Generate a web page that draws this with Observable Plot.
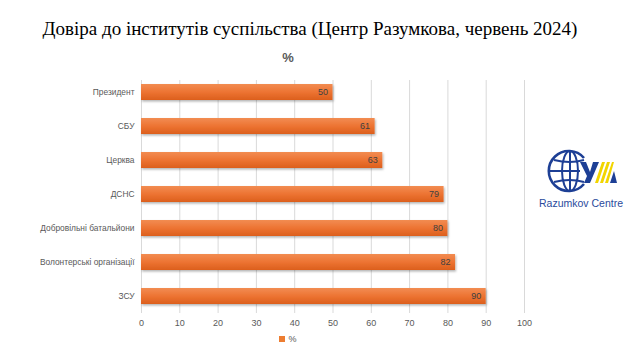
<!DOCTYPE html>
<html>
<head>
<meta charset="utf-8">
<script src="https://cdn.jsdelivr.net/npm/d3@7"></script>
<script src="https://cdn.jsdelivr.net/npm/@observablehq/plot@0.6"></script>
<style>
  body { margin: 0; background: #fff; }
  #wrap { position: relative; width: 640px; height: 360px; overflow: hidden; background: #fff; }
  #title { position: absolute; left: 0; width: 620px; top: 18px; text-align: center;
    font-family: "Liberation Serif", "Times New Roman", serif; font-size: 19px; color: #000; }
  #sub { position: absolute; left: 0; width: 576px; top: 50px; text-align: center;
    font-family: "Liberation Sans", Arial, sans-serif; font-size: 13px; font-weight: bold; color: #595959; }
  #legend { position: absolute; left: 0; width: 576px; top: 334px; text-align: center;
    font-family: "Liberation Sans", Arial, sans-serif; font-size: 9px; color: #595959; }
  #legend span.sw { display: inline-block; width: 6px; height: 6px; background: #ED7D31; margin-right: 3px; vertical-align: 0px; }
  #plot { position: absolute; left: 0; top: 0; }
  #logo { position: absolute; left: 536px; top: 145px; }
</style>
</head>
<body>
<div id="wrap">
  <div id="plot"></div>
  <div id="title">Довіра до інститутів суспільства (Центр Разумкова, червень 2024)</div>
  <div id="sub">%</div>
  <div id="legend"><span class="sw"></span>%</div>
  <svg id="logo" width="100" height="70" viewBox="0 0 100 70">
    <g transform="translate(10,0)">
      <g fill="none" stroke="#1d3f95" stroke-width="2">
        <path d="M38 13 A20 20 0 1 0 38 39" stroke-width="2.6"/>
        <ellipse cx="24" cy="26" rx="8" ry="20" />
        <line x1="24" y1="6" x2="24" y2="46" />
        <line x1="4" y1="26" x2="34" y2="26" />
        <path d="M8 15 Q24 19 38 15" />
        <path d="M8 37 Q24 33 38 37" />
      </g>
      <polygon points="34,17 40,17 44,27 47,17 53,17 44,38 38,38 41,31" fill="#1d3f95"/>
      <polygon points="49,38 56,17 59,17 52,38" fill="#f2d500"/>
      <polygon points="54,38 61,17 64,17 57,38" fill="#f2d500"/>
      <polygon points="59,38 66,17 68,17 62,38" fill="#f2d500"/>
      <polygon points="64,38 68,26 71,38" fill="#1d3f95"/>
    </g>
    <text x="45" y="62" text-anchor="middle" font-family="Liberation Sans, Arial, sans-serif" font-size="10.5" fill="#2a4a9c">Razumkov Centre</text>
  </svg>
</div>
<script>
const categories = ["Президент", "СБУ", "Церква", "ДСНС", "Добровільні батальйони", "Волонтерські організації", "ЗСУ"];
const values = [50, 61, 63, 79, 80, 82, 90];
const xTicks = [0, 10, 20, 30, 40, 50, 60, 70, 80, 90, 100];

const data = categories.map((c, i) => ({name: c, value: values[i]}));

const chart = Plot.plot({
  width: 640,
  height: 360,
  marginTop: 80,
  marginBottom: 47,
  marginLeft: 141,
  marginRight: 116,
  style: {fontFamily: "Liberation Sans, Arial, sans-serif", background: "transparent"},
  x: {domain: [0, 100], ticks: xTicks, grid: false, label: null},
  y: {domain: categories, label: null, paddingInner: 0.534, paddingOuter: 0, insetTop: 3, insetBottom: 8},
  marks: [
    Plot.gridX(xTicks, {stroke: "#d9d9d9", strokeOpacity: 1, strokeWidth: 1}),
    Plot.barX(data, {x: "value", y: "name", fill: "url(#barGrad)"}),
    Plot.text(data, {x: "value", y: "name", text: d => String(d.value), textAnchor: "end", dx: -5, fill: "#404040", fontSize: 9}),
    Plot.axisX({ticks: xTicks, tickSize: 0, tickPadding: 6, fontSize: 9, color: "#595959", label: null}),
    Plot.axisY({tickSize: 0, tickPadding: 7, fontSize: 8.4, color: "#595959", label: null})
  ]
});

const svg = d3.select(chart);
const defs = svg.insert("defs", ":first-child");
const g = defs.append("linearGradient").attr("id", "barGrad").attr("x1", 0).attr("y1", 0).attr("x2", 0).attr("y2", 1);
g.append("stop").attr("offset", "0%").attr("stop-color", "#F28C52");
g.append("stop").attr("offset", "50%").attr("stop-color", "#ED7432");
g.append("stop").attr("offset", "100%").attr("stop-color", "#DC5F1E");
const f = defs.append("filter").attr("id", "barShadow").attr("x", "-5%").attr("y", "-20%").attr("width", "115%").attr("height", "160%");
f.append("feDropShadow").attr("dx", 1).attr("dy", 1.5).attr("stdDeviation", 0.8).attr("flood-color", "#000").attr("flood-opacity", 0.3);
svg.selectAll("g[aria-label='bar'] rect").attr("filter", "url(#barShadow)");

document.getElementById("plot").appendChild(chart);
</script>
</body>
</html>
